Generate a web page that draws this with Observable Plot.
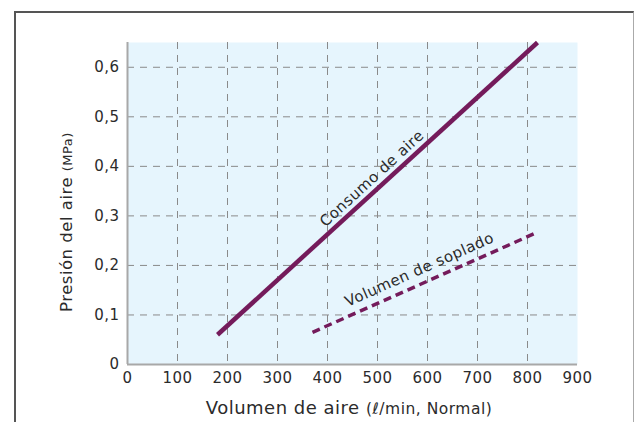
<!DOCTYPE html>
<html>
<head>
<meta charset="utf-8">
<script src="https://cdn.jsdelivr.net/npm/d3@7"></script>
<script src="https://cdn.jsdelivr.net/npm/@observablehq/plot@0.6"></script>
<style>
  html, body { margin: 0; padding: 0; background: #fff; }
  #wrap { position: relative; width: 635px; height: 422px; overflow: hidden; }
  #wrap svg { position: absolute; left: 0; top: 0; }
  #wrap svg text { letter-spacing: 0.5px; }
  #border { position: absolute; left: 14px; top: 11px; width: 617px; height: 500px;
            border-left: 2px solid #555; border-top: 2px solid #555; border-right: 1px solid #aaa; }
</style>
</head>
<body>
<div id="wrap"><div id="border"></div></div>
<script>
// Tick values
const xTicks = [0, 100, 200, 300, 400, 500, 600, 700, 800, 900];
const yTicks = [0, 0.1, 0.2, 0.3, 0.4, 0.5, 0.6];

// Series: "Consumo de aire" (solid) and "Volumen de soplado" (dashed)
const consumoX = [180, 820];
const consumoY = [0.06, 0.65];
const sopladoX = [370, 820];
const sopladoY = [0.065, 0.267];

// Line labels (placed along each line)
const labelText = ["Consumo de aire", "Volumen de soplado"];
const labelX = [489, 584];
const labelY = [0.345, 0.161];
const labelAngle = [-42.4, -24];

const consumo = consumoX.map((x, i) => ({x, y: consumoY[i]}));
const soplado = sopladoX.map((x, i) => ({x, y: sopladoY[i]}));
const lineLabels = labelText.map((t, i) => ({text: t, x: labelX[i], y: labelY[i], r: labelAngle[i]}));

const FONT = "'DejaVu Sans', Verdana, sans-serif";
const INK = "#2b2b2b";
const purple = "#741b5b";
const gridStyle = {stroke: "#8a8a8a", strokeOpacity: 1, strokeWidth: 1, strokeDasharray: "7,6"};
const fmtY = d => d === 0 ? "0" : d.toFixed(1).replace(".", ",");

const chart = Plot.plot({
  width: 635,
  height: 422,
  marginLeft: 127,
  marginRight: 58,
  marginTop: 42,
  marginBottom: 58,
  x: {domain: [0, 900]},
  y: {domain: [0, 0.65]},
  style: {fontFamily: FONT, fontSize: "15px", color: INK, background: "transparent", overflow: "visible"},
  marks: [
    Plot.frame({fill: "#e6f5fd", stroke: "none"}),
    Plot.gridX(xTicks.filter(d => d > 0 && d < 900), gridStyle),
    Plot.gridY(yTicks.filter(d => d > 0), gridStyle),
    Plot.ruleX([0], {stroke: "#a8a8a8", strokeWidth: 2}),
    Plot.ruleY([0], {stroke: "#a8a8a8", strokeWidth: 2}),
    Plot.axisX(xTicks, {tickSize: 0, tickPadding: 8, label: null, tickFormat: d => String(d), fill: INK, fontSize: 15}),
    Plot.axisY(yTicks, {tickSize: 0, tickPadding: 8, label: null, tickFormat: fmtY, fill: INK, fontSize: 15}),
    Plot.line(consumo, {x: "x", y: "y", stroke: purple, strokeWidth: 4.5, strokeLinecap: "butt"}),
    Plot.line(soplado, {x: "x", y: "y", stroke: purple, strokeWidth: 3.5, strokeDasharray: "8,5", strokeLinecap: "butt"}),
    Plot.text(lineLabels, {x: "x", y: "y", text: "text", rotate: "r", dy: -15, fontSize: 15, fill: INK})
  ]
});

const svg = d3.select(chart);
// X axis title
const xl = svg.append("text")
  .attr("x", 349).attr("y", 414)
  .attr("text-anchor", "middle")
  .attr("fill", INK)
  .style("font-family", FONT);
xl.append("tspan").attr("font-size", 18).text("Volumen de aire ");
xl.append("tspan").attr("font-size", 15.5).text("(ℓ/min, Normal)");

// Y axis title
const yl = svg.append("text")
  .attr("transform", "translate(72,222) rotate(-90)")
  .attr("text-anchor", "middle")
  .attr("fill", INK)
  .style("font-family", FONT);
yl.append("tspan").attr("font-size", 16.5).text("Presión del aire ");
yl.append("tspan").attr("font-size", 13).text("(MPa)");

document.getElementById("wrap").prepend(chart);
</script>
</body>
</html>
